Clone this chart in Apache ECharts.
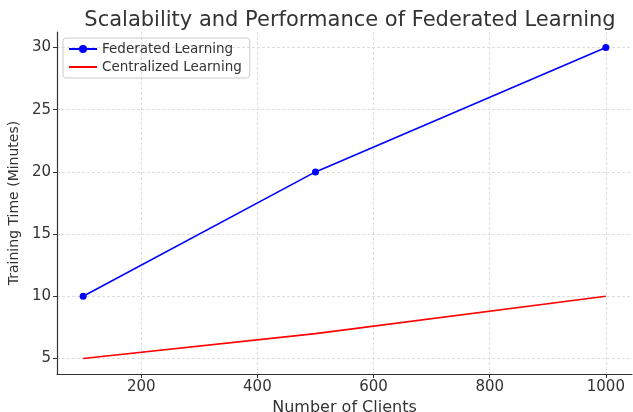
<!DOCTYPE html>
<html>
<head>
<meta charset="utf-8">
<script src="https://cdn.jsdelivr.net/npm/echarts@6/dist/echarts.min.js"></script>
<style>
  html, body { margin: 0; padding: 0; background: #fff; }
  #chart { width: 633px; height: 412px; }
</style>
</head>
<body>
<div id="chart"></div>
<script>
var clients = [100, 500, 1000];
var federated = [10, 20, 30];
var centralized = [5, 7, 10];
var xTicks = [200, 400, 600, 800, 1000];
var yTicks = [5, 10, 15, 20, 25, 30];

var font = 'DejaVu Sans';
var textColor = '#333';

function pairs(xs, ys) {
    return xs.map(function(x, i) { return [x, ys[i]]; });
}

var myChart = echarts.init(document.getElementById('chart'));

var option = {
    animation: false,
    textStyle: { fontFamily: font },
    title: {
        text: 'Scalability and Performance of Federated Learning',
        left: 345,
        textAlign: 'center',
        top: 5,
        textStyle: { fontFamily: font, fontSize: 21, fontWeight: 'normal', color: textColor }
    },
    grid: { left: 57, right: 1, top: 32, bottom: 38, outerBoundsMode: 'none', containLabel: false },
    legend: {
        orient: 'vertical',
        left: 63,
        top: 38,
        padding: [4, 8, 4, 5],
        itemWidth: 28,
        itemHeight: 10,
        itemGap: 4,
        borderColor: '#ccc',
        borderWidth: 1,
        borderRadius: 3,
        textStyle: { fontFamily: font, fontSize: 13.5, color: textColor },
        data: [
            { name: 'Federated Learning' },
            { name: 'Centralized Learning', itemStyle: { opacity: 0 } }
        ]
    },
    xAxis: {
        type: 'value',
        min: 55,
        max: 1045,
        name: 'Number of Clients',
        nameLocation: 'middle',
        nameGap: 21,
        nameTextStyle: { fontFamily: font, fontSize: 16, color: textColor },
        axisLine: { show: true, lineStyle: { color: '#333', width: 1.2 } },
        axisTick: { show: true, length: 4, customValues: xTicks, lineStyle: { color: '#333' } },
        axisLabel: {
            customValues: xTicks, fontFamily: font, fontSize: 15, color: textColor, margin: 6,
            formatter: function(v) { return String(v); }
        },
        splitLine: { show: true, lineStyle: { color: '#d6d6d6', type: [3, 2], width: 0.8 } }
    },
    yAxis: {
        type: 'value',
        min: 3.75,
        max: 31.25,
        name: 'Training Time (Minutes)',
        nameLocation: 'middle',
        nameGap: 33,
        nameTextStyle: { fontFamily: font, fontSize: 14, color: textColor },
        axisLine: { show: true, lineStyle: { color: '#333', width: 1.2 } },
        axisTick: { show: true, length: 4, customValues: yTicks, lineStyle: { color: '#333' } },
        axisLabel: { customValues: yTicks, fontFamily: font, fontSize: 15, color: textColor, margin: 6 },
        splitLine: { show: true, lineStyle: { color: '#d6d6d6', type: [3, 2], width: 0.8 } }
    },
    series: [{
        name: 'Federated Learning',
        type: 'line',
        data: pairs(clients, federated),
        symbol: 'circle',
        symbolSize: 7,
        itemStyle: { color: '#0000ff' },
        lineStyle: { color: '#0000ff', width: 1.6 }
    }, {
        name: 'Centralized Learning',
        type: 'line',
        data: pairs(clients, centralized),
        symbol: 'none',
        itemStyle: { color: '#ff0000' },
        lineStyle: { color: '#ff0000', width: 1.6 }
    }]
};

myChart.setOption(option);
</script>
</body>
</html>
